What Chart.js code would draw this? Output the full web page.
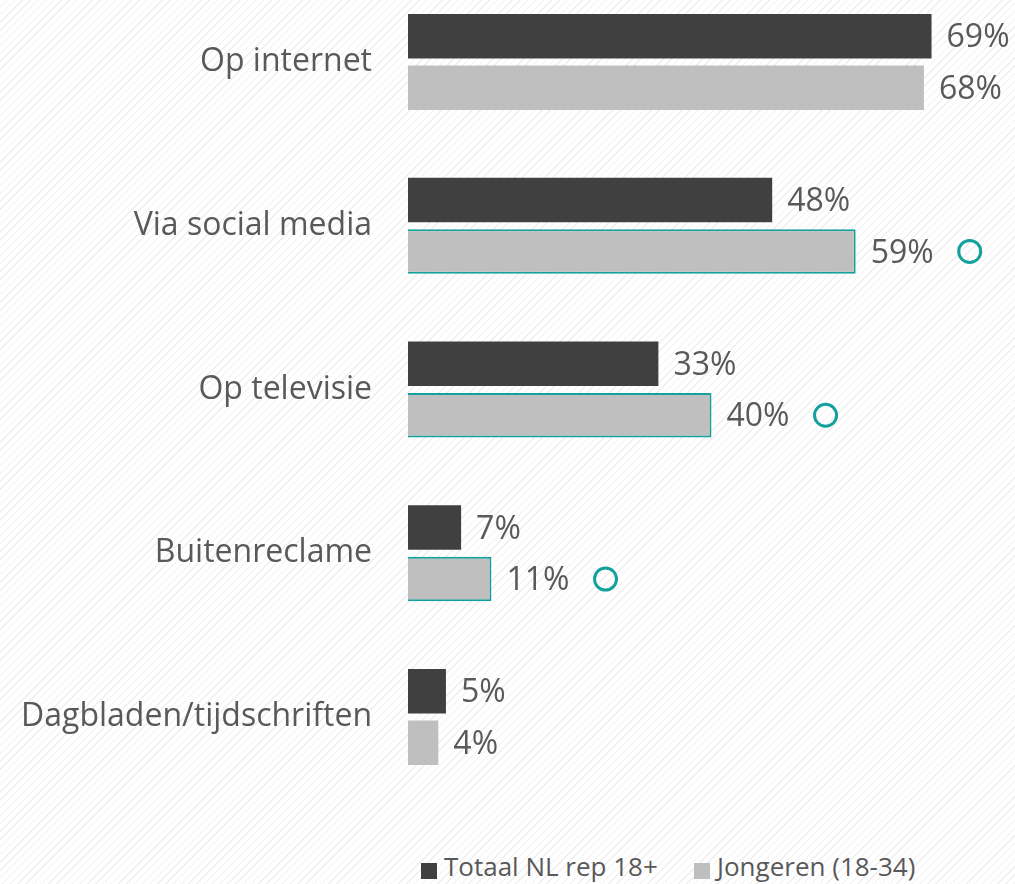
<!DOCTYPE html>
<html>
<head>
<meta charset="utf-8">
<script src="https://cdn.jsdelivr.net/npm/chart.js@4/dist/chart.umd.min.js"></script>
<style>
  html, body { margin:0; padding:0; width:1015px; height:884px; overflow:hidden; }
  body {
    position:relative;
    background: repeating-linear-gradient(135deg, #ffffff 0px, #ffffff 4.5px, #efefef 4.5px, #efefef 5.5px);
    font-family: "Open Sans", sans-serif;
  }
  #c { position:absolute; left:0; top:-20px; width:1015px; height:819px; }
  #legend { position:absolute; top:852px; left:0; width:1015px; height:40px; font-size:26px; color:#595959; }
  .item { position:absolute; top:0; white-space:nowrap; }
  .sw { position:absolute; top:11px; width:16px; height:16px; }
  .tx { position:absolute; left:23px; top:-4px; }
</style>
</head>
<body>
<canvas id="c" width="1015" height="819"></canvas>
<div id="legend"></div>
<script>
const categories = ["Op internet", "Via social media", "Op televisie", "Buitenreclame", "Dagbladen/tijdschriften"];
const seriesNames = ["Totaal NL rep 18+", "Jongeren (18-34)"];
const totaalValues = [69, 48, 33, 7, 5];
const jongerenValues = [68, 59, 40, 11, 4];
const jongerenSignificant = [false, true, true, true, false];
const seriesColors = ["#404040", "#BFBFBF"];
const teal = "#14A09C";
const textColor = "#595959";

const legendEl = document.getElementById('legend');
const legendX = [421, 694];
seriesNames.forEach((n, i) => {
  const it = document.createElement('div');
  it.className = 'item';
  it.style.left = legendX[i] + 'px';
  it.innerHTML = '<span class="sw" style="background:' + seriesColors[i] + '"></span><span class="tx">' + n + '</span>';
  legendEl.appendChild(it);
});

const labelPlugin = {
  id: 'valueLabels',
  afterDatasetsDraw(chart) {
    const ctx = chart.ctx;
    ctx.save();
    ctx.font = '32px "Open Sans"';
    ctx.textBaseline = 'middle';
    ctx.textAlign = 'left';
    chart.data.datasets.forEach((ds, di) => {
      const meta = chart.getDatasetMeta(di);
      meta.data.forEach((bar, i) => {
        const txt = ds.data[i] + '%';
        const x = bar.x + 15;
        const y = bar.y + 2;
        ctx.fillStyle = textColor;
        ctx.fillText(txt, x, y);
        if (ds.sig && ds.sig[i]) {
          const w = ctx.measureText(txt).width;
          ctx.beginPath();
          ctx.strokeStyle = teal;
          ctx.lineWidth = 3;
          ctx.arc(x + w + 36, y - 2, 11, 0, Math.PI * 2);
          ctx.stroke();
        }
      });
    });
    ctx.restore();
  }
};

new Chart(document.getElementById('c'), {
  type: 'bar',
  data: {
    labels: categories,
    datasets: [
      {
        label: seriesNames[0],
        data: totaalValues,
        backgroundColor: seriesColors[0],
        borderWidth: 0,
        categoryPercentage: 0.629,
        barPercentage: 0.864
      },
      {
        label: seriesNames[1],
        data: jongerenValues,
        sig: jongerenSignificant,
        backgroundColor: seriesColors[1],
        borderColor: jongerenSignificant.map(s => s ? teal : seriesColors[1]),
        borderWidth: jongerenSignificant.map(s => s ? 2 : 0),
        categoryPercentage: 0.629,
        barPercentage: 0.864
      }
    ]
  },
  options: {
    indexAxis: 'y',
    responsive: false,
    devicePixelRatio: 1,
    animation: false,
    layout: { padding: 0 },
    plugins: { legend: { display: false }, tooltip: { enabled: false } },
    scales: {
      x: { min: 0, max: 80, display: false },
      y: {
        grid: { display: false, drawTicks: false },
        border: { display: false },
        ticks: { padding: 36, color: textColor, font: { family: 'Open Sans', size: 32 } },
        afterFit(scale) { scale.width = 408; scale.paddingTop = 0; scale.paddingBottom = 0; }
      }
    }
  },
  plugins: [labelPlugin]
});
</script>
</body>
</html>
